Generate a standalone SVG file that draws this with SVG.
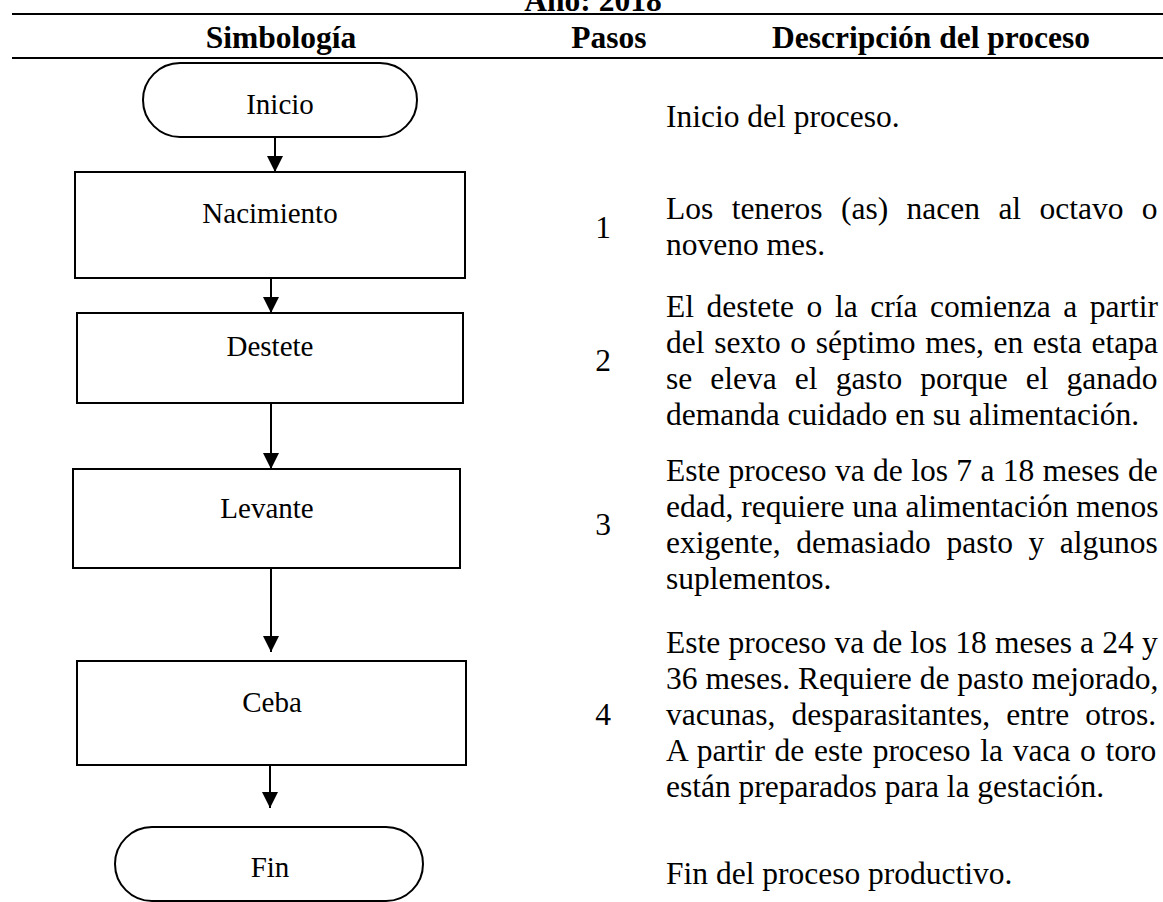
<svg xmlns="http://www.w3.org/2000/svg" width="1163" height="902" viewBox="0 0 1163 902">
<defs>
<style>
.hdr{font-family:"Liberation Serif","Times New Roman",serif;font-weight:bold;font-size:31.5px;fill:#000;text-anchor:middle}
.lbl{font-family:"Liberation Serif","Times New Roman",serif;font-size:29px;fill:#000;text-anchor:middle}
.txt{font-family:"Liberation Serif","Times New Roman",serif;font-size:31.5px;fill:#000}
.num{font-family:"Liberation Serif","Times New Roman",serif;font-size:31.5px;fill:#000;text-anchor:middle}
.shape{fill:#fff;stroke:#000;stroke-width:2}
.rule{stroke:#000;stroke-width:2}
.conn{stroke:#000;stroke-width:2;fill:none}
</style>
<marker id="arr" markerUnits="userSpaceOnUse" markerWidth="16" markerHeight="16" refX="16" refY="8" orient="auto" viewBox="0 0 16 16">
<path d="M0,0 L16,8 L0,16 z" fill="#000"/>
</marker>
</defs>
<rect width="1163" height="902" fill="#fff"/>

<g id="header">
<text class="hdr" x="593" y="11">Año: 2018</text>
<line class="rule" x1="12" y1="14" x2="1163" y2="14"/>
<text class="hdr" x="281" y="48">Simbología</text>
<text class="hdr" x="609" y="48">Pasos</text>
<text class="hdr" x="931" y="48">Descripción del proceso</text>
<line class="rule" x1="12" y1="58" x2="1163" y2="58"/>
</g>

<g id="connectors">
<line class="conn" x1="275" y1="137" x2="275" y2="172" marker-end="url(#arr)"/>
<line class="conn" x1="271" y1="278" x2="271" y2="313" marker-end="url(#arr)"/>
<line class="conn" x1="271" y1="403" x2="271" y2="469" marker-end="url(#arr)"/>
<line class="conn" x1="271" y1="568" x2="271" y2="652" marker-end="url(#arr)"/>
<line class="conn" x1="270" y1="765" x2="270" y2="808" marker-end="url(#arr)"/>
</g>

<g id="node-inicio">
<rect class="shape" x="143" y="63" width="274" height="74" rx="37" ry="37"/>
<text class="lbl" x="280" y="114">Inicio</text>
</g>
<g id="node-nacimiento">
<rect class="shape" x="75" y="172" width="390" height="106"/>
<text class="lbl" x="270" y="223">Nacimiento</text>
</g>
<g id="node-destete">
<rect class="shape" x="77" y="313" width="386" height="90"/>
<text class="lbl" x="270" y="356">Destete</text>
</g>
<g id="node-levante">
<rect class="shape" x="73" y="469" width="387" height="99"/>
<text class="lbl" x="267" y="518">Levante</text>
</g>
<g id="node-ceba">
<rect class="shape" x="77" y="661" width="389" height="104"/>
<text class="lbl" x="272" y="712">Ceba</text>
</g>
<g id="node-fin">
<rect class="shape" x="115" y="827" width="308" height="74" rx="37" ry="37"/>
<text class="lbl" x="270" y="877">Fin</text>
</g>

<g id="steps">
<text class="num" x="603" y="238">1</text>
<text class="num" x="603" y="371">2</text>
<text class="num" x="603" y="535">3</text>
<text class="num" x="603" y="725">4</text>
</g>

<g id="descriptions">
<text class="txt" x="666" y="127">Inicio del proceso.</text>

<text class="txt" x="666" y="219" word-spacing="10.5">Los teneros (as) nacen al octavo o</text>
<text class="txt" x="666" y="255">noveno mes.</text>

<text class="txt" x="666" y="317" word-spacing="4.7">El destete o la cría comienza a partir</text>
<text class="txt" x="666" y="353" word-spacing="1.8">del sexto o séptimo mes, en esta etapa</text>
<text class="txt" x="666" y="389" word-spacing="10.2">se eleva el gasto porque el ganado</text>
<text class="txt" x="666" y="425">demanda cuidado en su alimentación.</text>

<text class="txt" x="666" y="481" word-spacing="0.5">Este proceso va de los 7 a 18 meses de</text>
<text class="txt" x="666" y="517">edad, requiere una alimentación menos</text>
<text class="txt" x="666" y="553" word-spacing="7.7">exigente, demasiado pasto y algunos</text>
<text class="txt" x="666" y="589">suplementos.</text>

<text class="txt" x="666" y="653" word-spacing="0.3">Este proceso va de los 18 meses a 24 y</text>
<text class="txt" x="666" y="689">36 meses. Requiere de pasto mejorado,</text>
<text class="txt" x="666" y="725" word-spacing="8.3">vacunas, desparasitantes, entre otros.</text>
<text class="txt" x="666" y="761" word-spacing="1.8">A partir de este proceso la vaca o toro</text>
<text class="txt" x="666" y="797">están preparados para la gestación.</text>

<text class="txt" x="666" y="884">Fin del proceso productivo.</text>
</g>
</svg>
